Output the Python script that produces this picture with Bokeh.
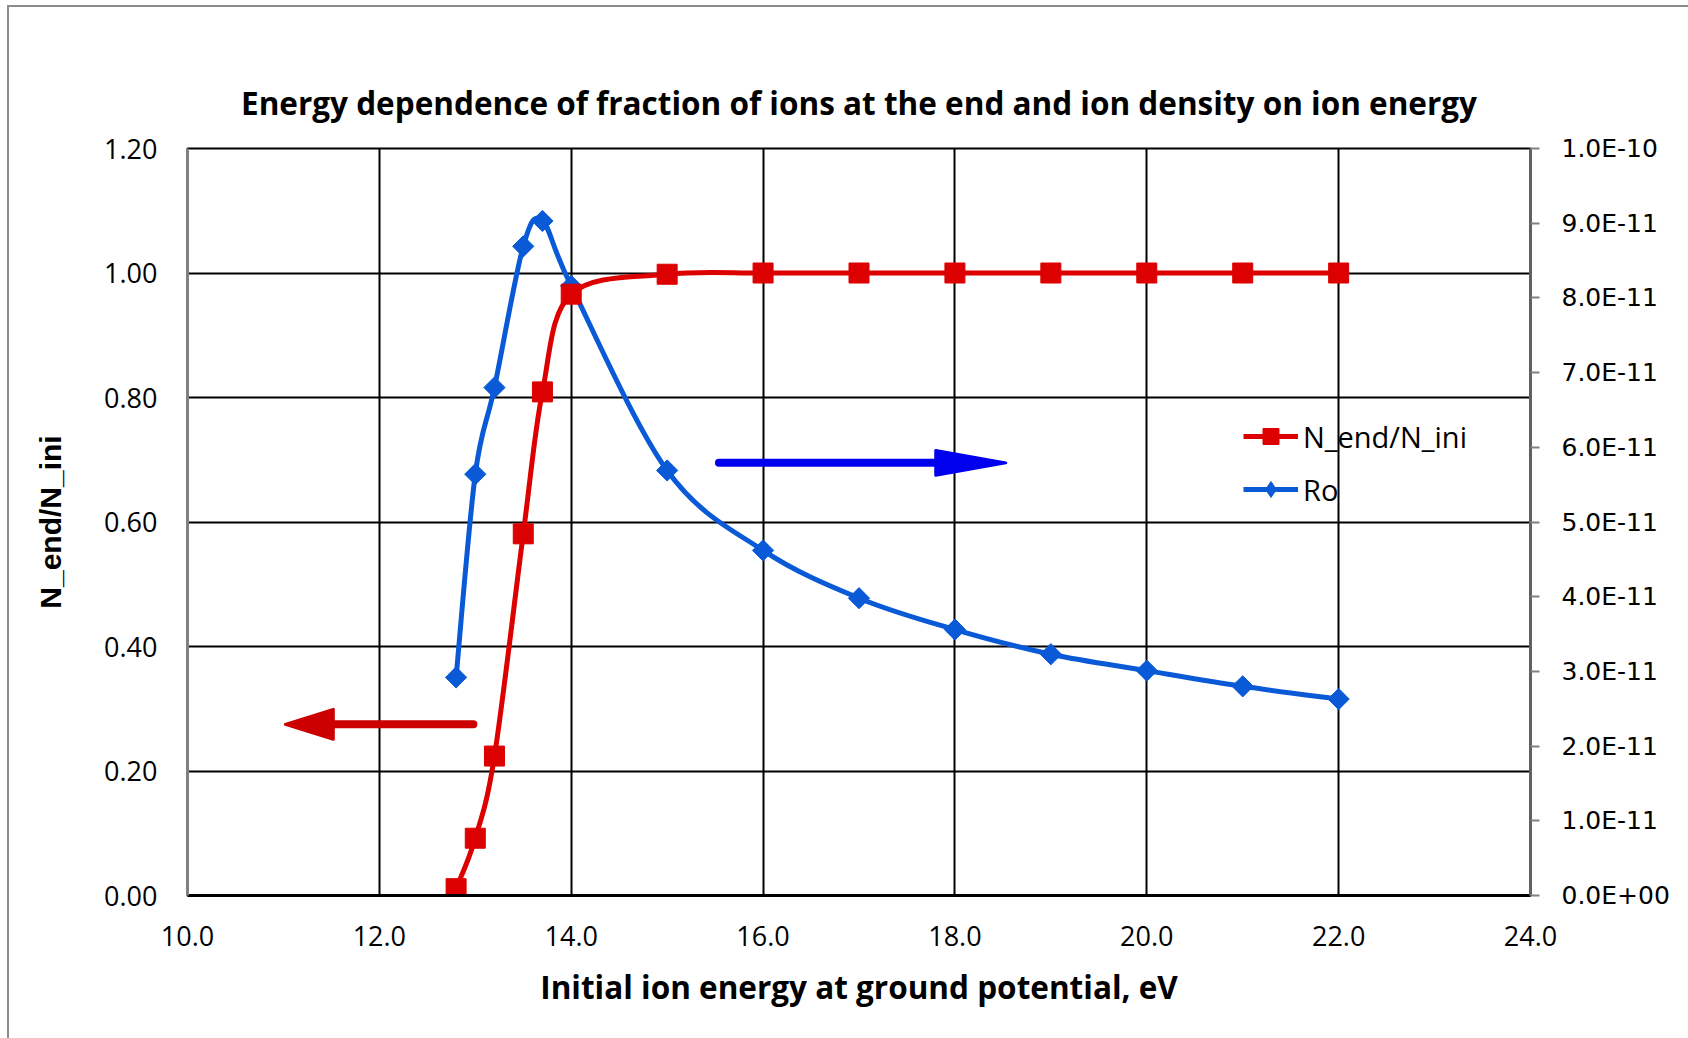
from bokeh.plotting import figure
from bokeh.models import (Range1d, LinearAxis, FixedTicker, PrintfTickFormatter,
                          CustomJSTickFormatter, Legend, LegendItem, Title)
from bokeh.embed import file_html
from bokeh.resources import INLINE

# ---------------- data ----------------
energy = [12.8, 13.0, 13.2, 13.5, 13.7, 14.0, 15.0, 16.0, 17.0, 18.0, 19.0, 20.0, 21.0, 22.0]
n_ratio = [0.011, 0.092, 0.224, 0.581, 0.809, 0.966, 0.998, 1.0, 1.0, 1.0, 1.0, 1.0, 1.0, 1.0]
ro = [2.92e-11, 5.64e-11, 6.80e-11, 8.69e-11, 9.03e-11, 8.16e-11, 5.69e-11,
      4.62e-11, 3.98e-11, 3.56e-11, 3.23e-11, 3.01e-11, 2.80e-11, 2.63e-11]

x_ticks = [10, 12, 14, 16, 18, 20, 22, 24]
left_ticks = [0.0, 0.2, 0.4, 0.6, 0.8, 1.0, 1.2]
right_ticks = [0.0, 1e-11, 2e-11, 3e-11, 4e-11, 5e-11, 6e-11, 7e-11, 8e-11, 9e-11, 1e-10]

title_text = "Energy dependence of fraction of ions at the end and ion density on ion energy"
x_label = "Initial ion energy at ground potential, eV"
y_label = "N_end/N_ini"
series_names = ["N_end/N_ini", "Ro"]

RED = "#dd0000"
BLUE = "#0a5ad8"
FONT = "Open Sans"


def smooth(xs, ys):
    """Catmull-Rom style smoothing (as in spreadsheet smoothed lines) -> bezier segments."""
    n = len(xs)
    out = dict(x0=[], y0=[], x1=[], y1=[], cx0=[], cy0=[], cx1=[], cy1=[])
    for i in range(n - 1):
        a = i - 1 if i > 0 else i
        d = i + 2 if i + 2 < n else i + 1
        out["x0"].append(xs[i]); out["y0"].append(ys[i])
        out["x1"].append(xs[i + 1]); out["y1"].append(ys[i + 1])
        out["cx0"].append(xs[i] + (xs[i + 1] - xs[a]) / 6.0)
        out["cy0"].append(ys[i] + (ys[i + 1] - ys[a]) / 6.0)
        out["cx1"].append(xs[i + 1] - (xs[d] - xs[i]) / 6.0)
        out["cy1"].append(ys[i + 1] - (ys[d] - ys[i]) / 6.0)
    return out


p = figure(width=1688, height=1038, output_backend="svg", toolbar_location=None,
           x_range=Range1d(10, 24), y_range=Range1d(0, 1.2),
           min_border_left=187, min_border_right=158, min_border_top=148, min_border_bottom=143)
p.extra_y_ranges = {"ro": Range1d(0, 1e-10)}

p.border_fill_alpha = 0
p.styles = {"background-color": "white",
            "box-shadow": "inset 7px 5px 0 0 white, inset 9px 7px 0 0 #8c8c8c"}

p.outline_line_color = "black"
p.outline_line_width = 2

# visible title (outermost) plus an invisible spacer title next to the frame
p.title.text = title_text
p.title.align = "center"
p.title.text_font = FONT
p.title.text_font_style = "bold"
p.title.text_font_size = "31.5px"
p.title.text_color = "black"
p.title.standoff = 50
p.add_layout(Title(text=".", text_alpha=0, text_font_size="1px", standoff=52), "above")

# x axis
xa = p.xaxis[0]
xa.ticker = FixedTicker(ticks=x_ticks)
xa.formatter = PrintfTickFormatter(format="%.1f")
xa.axis_label = x_label
xa.axis_label_text_font = FONT
xa.axis_label_text_font_style = "bold"
xa.axis_label_text_font_size = "31.5px"
xa.axis_label_text_color = "black"
xa.axis_label_standoff = 16
xa.major_label_text_font = FONT
xa.major_label_text_font_size = "27px"
xa.major_label_text_color = "black"
xa.major_label_standoff = 30
xa.major_tick_out = 0
xa.major_tick_in = 0
xa.minor_tick_out = 0
xa.minor_tick_in = 0
xa.axis_line_color = "black"
xa.axis_line_width = 3

# left axis
ya = p.yaxis[0]
ya.ticker = FixedTicker(ticks=left_ticks)
ya.formatter = PrintfTickFormatter(format="%.2f")
ya.axis_label = y_label
ya.axis_label_text_font = "Liberation Sans"
ya.axis_label_text_font_style = "bold"
ya.axis_label_text_font_size = "30px"
ya.axis_label_text_color = "black"
ya.axis_label_standoff = 34
ya.major_label_text_font = FONT
ya.major_label_text_font_size = "27px"
ya.major_label_text_color = "black"
ya.major_label_standoff = 30
ya.major_tick_out = 0
ya.major_tick_in = 0
ya.minor_tick_out = 0
ya.minor_tick_in = 0
ya.axis_line_color = "#808080"
ya.axis_line_width = 3

# right axis
ra = LinearAxis(y_range_name="ro", ticker=FixedTicker(ticks=right_ticks))
ra.formatter = CustomJSTickFormatter(code="""
const s = tick.toExponential(1).toUpperCase();
return s.replace(/E([+-])(\\d)$/, (m, sg, d) => 'E' + sg + '0' + d);
""")
ra.major_label_text_font = "DejaVu Sans"
ra.major_label_text_font_size = "25px"
ra.major_label_text_color = "black"
ra.major_label_standoff = 22
ra.major_tick_out = 9
ra.major_tick_in = 0
ra.major_tick_line_color = "#808080"
ra.major_tick_line_width = 2
ra.minor_tick_out = 0
ra.minor_tick_in = 0
ra.axis_line_color = "#606060"
ra.axis_line_width = 3
p.add_layout(ra, "right")

# grids
p.xgrid.ticker = FixedTicker(ticks=x_ticks)
p.ygrid.ticker = FixedTicker(ticks=left_ticks)
for g in (p.xgrid[0], p.ygrid[0]):
    g.grid_line_color = "black"
    g.grid_line_width = 2

# arrows (annotations)
arrow_head_len = 0.50
red_y, red_start, red_tip = 0.275, 12.98, 11.02
blue_y, blue_start, blue_tip = 0.695, 15.54, 18.53
blue_head_len = 0.73
p.segment(x0=[red_start], y0=[red_y], x1=[red_tip + arrow_head_len * 0.9], y1=[red_y],
          line_color="#cc0000", line_width=8, line_cap="round")
p.patch(x=[red_tip, red_tip + arrow_head_len, red_tip + arrow_head_len],
        y=[red_y, red_y + 0.024, red_y - 0.024], color="#cc0000", line_width=3, line_join="round")
p.segment(x0=[blue_start], y0=[blue_y], x1=[blue_tip - blue_head_len * 0.9], y1=[blue_y],
          line_color="#0000ee", line_width=8, line_cap="round")
p.patch(x=[blue_tip, blue_tip - blue_head_len, blue_tip - blue_head_len],
        y=[blue_y, blue_y + 0.020, blue_y - 0.020], color="#0000ee", line_width=3, line_join="round")

# series
rs = smooth(energy, n_ratio)
r_red_line = p.bezier(x0=rs["x0"], y0=rs["y0"], x1=rs["x1"], y1=rs["y1"],
                      cx0=rs["cx0"], cy0=rs["cy0"], cx1=rs["cx1"], cy1=rs["cy1"],
                      line_color=RED, line_width=5)
bs = smooth(energy, ro)
r_blue_line = p.bezier(x0=bs["x0"], y0=bs["y0"], x1=bs["x1"], y1=bs["y1"],
                       cx0=bs["cx0"], cy0=bs["cy0"], cx1=bs["cx1"], cy1=bs["cy1"],
                       line_color=BLUE, line_width=5, y_range_name="ro")
r_blue_pts = p.scatter(energy, ro, marker="square", angle=0.785398, size=15,
                       color=BLUE, y_range_name="ro")
r_red_pts = p.scatter(energy, n_ratio, marker="square", size=20, color=RED)
# legend-only marker for the blue series (diamond shape in the key)
r_blue_key = p.scatter([float("nan")], [float("nan")], marker="diamond", size=27,
                       color=BLUE, y_range_name="ro")

legend = Legend(items=[LegendItem(label=series_names[0], renderers=[r_red_line, r_red_pts]),
                       LegendItem(label=series_names[1], renderers=[r_blue_line, r_blue_key])],
                location=(1056, 386), glyph_width=55, glyph_height=40, spacing=13,
                label_standoff=5, padding=0, margin=0,
                label_text_font=FONT, label_text_font_size="29px", label_text_color="black",
                border_line_alpha=0, background_fill_alpha=0)
p.add_layout(legend, "center")

open("out.html", "w").write(file_html(p, INLINE))
